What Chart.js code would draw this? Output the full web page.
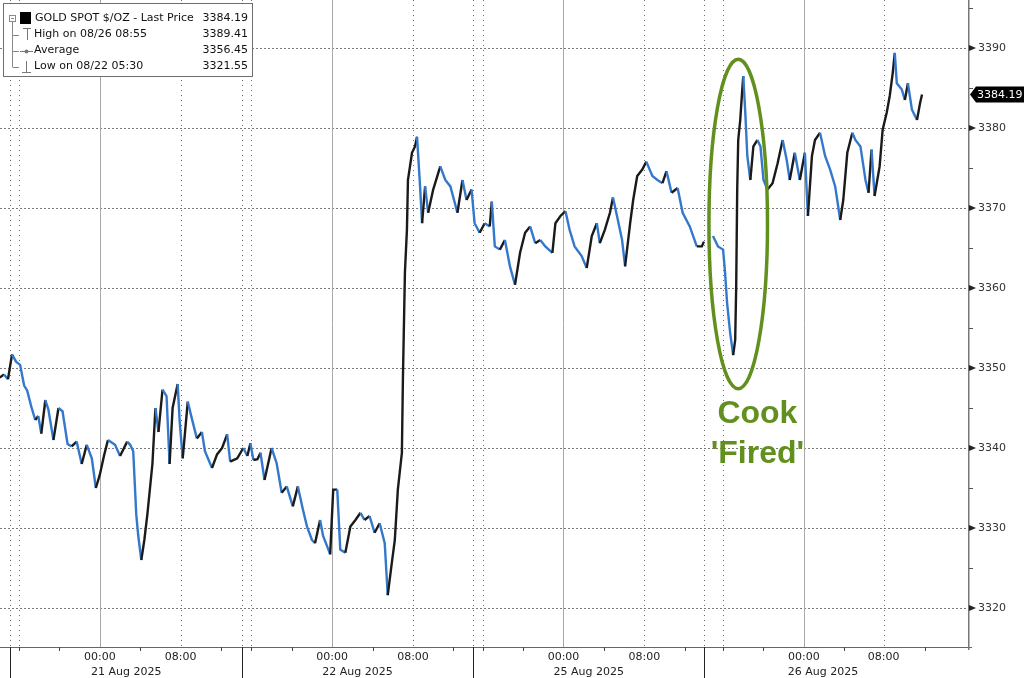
<!DOCTYPE html>
<html><head><meta charset="utf-8">
<script src="https://cdn.jsdelivr.net/npm/chart.js@4.4.1/dist/chart.umd.min.js"></script>
<style>html,body{margin:0;padding:0;background:#fff;overflow:hidden}#wrap{width:1024px;height:678px;position:relative}canvas{display:block}</style>
</head><body><div id="wrap"><canvas id="c" width="1024" height="678"></canvas></div>
<script>
// x values: trading hours on the compressed session axis (0 = start of the 21 Aug session)
const day1Hours = [-1.0,-0.6,-0.2,0.2,0.6,1.0,1.4,1.7,2.1,2.5,2.8,3.1,3.5,3.8,4.3,4.8,5.2,5.7,6.1,6.6,7.1,7.6,8.1,8.5,8.9,9.3,9.7,10.4,10.9,11.6,11.9,12.2,12.5,12.7,13.0,13.3,13.6,14.1,14.4,14.7,15.1,15.5,15.8,16.1,16.6,16.8,17.1,17.6,18.0,18.5,19.0,19.3,20.0,20.5,21.0,21.5,21.8,22.5,23.1];
const day1Prices = [3348.8,3349.2,3348.6,3351.7,3350.8,3350.4,3347.8,3347.2,3345.2,3343.5,3344.0,3341.8,3346.0,3344.8,3341.0,3345.0,3344.6,3340.5,3340.2,3340.8,3338.0,3340.4,3338.7,3335.0,3336.7,3339.0,3341.0,3340.4,3339.0,3340.8,3340.4,3339.6,3331.7,3329.0,3326.0,3328.5,3331.7,3338.0,3345.0,3342.0,3347.3,3346.5,3338.0,3345.0,3348.0,3343.3,3338.7,3345.8,3343.7,3341.2,3342.0,3339.6,3337.5,3339.2,3340.0,3341.7,3338.3,3338.7,3340.0];
const day2Hours = [23.5,23.8,24.1,24.5,24.8,25.2,25.9,26.4,26.9,27.4,28.0,28.5,29.0,29.4,29.9,30.2,30.7,31.0,31.4,31.7,32.0,32.4,32.7,33.2,33.7,34.2,34.7,35.1,35.6,36.1,36.6,37.1,37.4,37.8,38.1,38.4,38.8,38.9,39.1,39.3,39.4,39.8,40.1,40.3,40.6,40.8,41.1,41.4,41.9,42.6,43.1,43.6,44.3,44.8,45.2,45.7];
const day2Prices = [3339.0,3340.6,3338.5,3338.6,3339.4,3336.0,3340.0,3338.1,3334.4,3335.2,3332.7,3335.2,3332.3,3330.2,3328.5,3328.1,3331.0,3329.0,3327.7,3326.7,3334.8,3334.8,3327.3,3326.9,3330.2,3331.0,3331.9,3331.0,3331.5,3329.4,3330.6,3328.1,3321.6,3325.6,3328.5,3334.8,3339.4,3348.5,3361.9,3367.3,3373.5,3376.9,3377.7,3378.9,3372.7,3368.1,3372.7,3369.4,3372.3,3375.2,3373.5,3372.7,3369.4,3373.5,3371.0,3372.3];
const day3Hours = [46.0,46.5,47.0,47.5,47.7,48.0,48.5,49.0,49.5,50.0,50.5,51.0,51.5,52.0,52.5,53.0,53.7,54.0,54.5,55.0,55.4,55.9,56.6,57.1,57.6,58.1,58.4,58.9,59.4,59.7,60.1,60.6,60.9,61.4,61.7,62.1,62.6,63.0,63.6,64.1,64.6,65.0,65.5,66.1,66.6,67.3,68.0,68.5,68.7];
const day3Prices = [3368.1,3366.9,3368.1,3367.7,3370.8,3365.2,3364.8,3366.0,3362.7,3360.4,3364.4,3366.9,3367.7,3365.6,3366.0,3365.2,3364.4,3368.1,3369.0,3369.6,3367.3,3365.2,3364.0,3362.5,3366.5,3368.1,3365.6,3367.3,3369.4,3371.3,3369.0,3366.0,3362.7,3368.1,3371.0,3374.0,3374.8,3375.8,3374.0,3373.5,3373.1,3374.6,3371.9,3372.5,3369.4,3367.7,3365.2,3365.2,3365.8];
const day4Hours = [69.6,70.1,70.6,70.8,71.0,71.3,71.6,71.8,71.9,72.0,72.1,72.3,72.5,72.6,72.8,73.0,73.3,73.6,74.0,74.3,74.6,75.0,75.5,76.0,76.5,76.9,77.2,77.7,78.2,78.7,79.0,79.4,79.7,80.2,80.7,81.2,81.7,82.2,82.5,82.9,83.4,83.7,84.2,84.7,85.0,85.3,85.6,86.1,86.4,86.8,87.1,87.4,87.6,87.8,88.3,88.6,88.9,89.3,89.8,90.1,90.3];
const day4Prices = [3366.5,3365.2,3364.8,3361.9,3358.1,3354.4,3351.6,3353.5,3360.2,3372.3,3378.5,3381.0,3384.8,3386.5,3381.9,3376.5,3373.5,3377.7,3378.5,3377.7,3373.5,3372.3,3373.1,3375.6,3378.5,3376.0,3373.5,3376.9,3373.5,3376.9,3369.0,3376.5,3378.5,3379.4,3376.5,3374.8,3372.7,3368.5,3371.0,3376.9,3379.4,3378.5,3377.7,3373.5,3371.9,3377.3,3371.5,3375.2,3379.8,3381.9,3384.0,3386.9,3389.4,3385.6,3384.8,3383.5,3385.6,3382.3,3381.0,3383.1,3384.19];
const gapHour = 69.1; // daily market break, no prints

const timeTickHours = [8.9,16.9,31.9,39.9,54.8,62.8,78.6,86.5];
const timeTickLabels = ['00:00','08:00','00:00','08:00','00:00','08:00','00:00','08:00'];
const dateTickHours = [11.5,34.4,57.3,80.5];
const dateTickLabels = ['21 Aug 2025','22 Aug 2025','25 Aug 2025','26 Aug 2025'];
const sessionStartHours = [0,23.0,45.8,68.7];
const midnightHours = [8.9,31.9,54.8,78.6];
const dottedHours = [0,0.9,16.9,23.0,23.9,39.9,45.8,46.8,62.8,68.7,70.6,86.5];
const minorHourTicks = [0.9,4.9,12.9,20.9,23.9,27.9,35.9,43.9,46.8,50.8,58.8,66.8,70.6,74.6,82.6,90.6];
const priceTicks = [3320,3330,3340,3350,3360,3370,3380,3390];
const minorPriceTicks = [3325,3335,3345,3355,3365,3375,3385,3395];

const legendLabels = ['GOLD SPOT $/OZ - Last Price','High on 08/26 08:55','Average','Low on 08/22 05:30'];
const legendValues = ['3384.19','3389.41','3356.45','3321.55'];
const lastPrice = 3384.19;

const noteLines = ['Cook',"'Fired'"];
const noteHour = 74.0, notePrices = [3343.1, 3338.1];
const ellipseHour = 72.1, ellipsePrice = 3368.0, ellipseHalfHours = 2.9, ellipseHalfPrice = 20.6;

const FONT = 'DejaVu Sans';
const BLUE = '#3478cc', UPC = '#1a1a1a', GREEN = '#62901f';

const points = [];
function addDay(hs, ps){ hs.forEach((h,i)=>points.push({x:h,y:ps[i]})); }
addDay(day1Hours, day1Prices);
addDay(day2Hours, day2Prices);
addDay(day3Hours, day3Prices);
points.push({x:gapHour, y:null});
addDay(day4Hours, day4Prices);

function zeroPad(s){ s.paddingTop=0; s.paddingBottom=0; s.paddingLeft=0; s.paddingRight=0; }

const decor = {
  id:'decor',
  beforeDatasetsDraw(chart){
    const {ctx, chartArea:a, scales:{x,y}} = chart;
    ctx.save();
    ctx.lineWidth = 1;
    ctx.strokeStyle = '#7a7a7a';
    ctx.setLineDash([2,2]);
    priceTicks.forEach(v=>{const py=Math.round(y.getPixelForValue(v))+0.5;ctx.beginPath();ctx.moveTo(a.left,py);ctx.lineTo(a.right,py);ctx.stroke();});
    ctx.setLineDash([1,4]);
    ctx.strokeStyle = '#6a6a6a';
    dottedHours.forEach(h=>{const px=Math.round(x.getPixelForValue(h))+0.5;ctx.beginPath();ctx.moveTo(px,a.top);ctx.lineTo(px,a.bottom);ctx.stroke();});
    ctx.setLineDash([]);
    ctx.strokeStyle = '#a8a8a8';
    midnightHours.forEach(h=>{const px=Math.round(x.getPixelForValue(h))+0.5;ctx.beginPath();ctx.moveTo(px,a.top);ctx.lineTo(px,a.bottom);ctx.stroke();});
    ctx.restore();
  },
  afterDatasetsDraw(chart){
    const {ctx, chartArea:a, scales:{x,y}} = chart;
    ctx.save();
    ctx.strokeStyle = '#666'; ctx.lineWidth = 1;
    ctx.beginPath(); ctx.moveTo(0, a.bottom+0.5); ctx.lineTo(a.right+4, a.bottom+0.5); ctx.stroke();
    ctx.strokeStyle = '#777'; ctx.lineWidth = 1.5;
    ctx.beginPath(); ctx.moveTo(a.right+0.75, 0); ctx.lineTo(a.right+0.75, a.bottom+3); ctx.stroke();
    ctx.lineWidth = 1; ctx.strokeStyle = '#444';
    minorHourTicks.forEach(h=>{const px=Math.round(x.getPixelForValue(h))+0.5;ctx.beginPath();ctx.moveTo(px,a.bottom);ctx.lineTo(px,a.bottom+4);ctx.stroke();});
    ctx.strokeStyle = '#222';
    sessionStartHours.forEach(h=>{const px=Math.round(x.getPixelForValue(h))+0.5;ctx.beginPath();ctx.moveTo(px,a.bottom);ctx.lineTo(px,chart.height);ctx.stroke();});
    ctx.fillStyle = '#222';
    priceTicks.forEach(v=>{const py=y.getPixelForValue(v);ctx.beginPath();ctx.moveTo(a.right+1,py-3);ctx.lineTo(a.right+8,py);ctx.lineTo(a.right+1,py+3);ctx.closePath();ctx.fill();});
    ctx.strokeStyle = '#555';
    minorPriceTicks.forEach(v=>{const py=Math.round(y.getPixelForValue(v))+0.5;ctx.beginPath();ctx.moveTo(a.right+1,py);ctx.lineTo(a.right+5,py);ctx.stroke();});
    const ty = y.getPixelForValue(lastPrice);
    ctx.fillStyle = '#000';
    ctx.beginPath(); ctx.moveTo(a.right+2,ty); ctx.lineTo(a.right+8,ty-8); ctx.lineTo(chart.width,ty-8); ctx.lineTo(chart.width,ty+8); ctx.lineTo(a.right+8,ty+8); ctx.closePath(); ctx.fill();
    ctx.fillStyle = '#fff'; ctx.font = '11px "'+FONT+'"'; ctx.textBaseline='middle'; ctx.textAlign='left';
    ctx.fillText(lastPrice.toFixed(2), a.right+9, ty+0.5);
    const cx = x.getPixelForValue(ellipseHour), cy = y.getPixelForValue(ellipsePrice);
    const rx = Math.abs(x.getPixelForValue(ellipseHour+ellipseHalfHours)-cx), ry = Math.abs(y.getPixelForValue(ellipsePrice+ellipseHalfPrice)-cy);
    ctx.strokeStyle = GREEN; ctx.lineWidth = 3.5;
    ctx.beginPath(); ctx.ellipse(cx, cy, rx, ry, 0, 0, Math.PI*2); ctx.stroke();
    ctx.fillStyle = GREEN; ctx.font = 'bold 32px "Liberation Sans"'; ctx.textAlign='center'; ctx.textBaseline='alphabetic';
    noteLines.forEach((t,i)=>ctx.fillText(t, x.getPixelForValue(noteHour), y.getPixelForValue(notePrices[i])));
    ctx.fillStyle = '#fff'; ctx.fillRect(3,3,250,74);
    ctx.strokeStyle = '#6e6e6e'; ctx.lineWidth = 1; ctx.strokeRect(3.5,3.5,249,73);
    const rows = [18.5, 34.5, 50.5, 66.5];
    ctx.strokeStyle = '#8a8a8a';
    ctx.strokeRect(9.5,15.5,6,6);
    ctx.beginPath(); ctx.moveTo(11,18.5); ctx.lineTo(14,18.5); ctx.stroke();
    ctx.beginPath(); ctx.moveTo(12.5,22); ctx.lineTo(12.5,rows[3]+0.5); ctx.stroke();
    [1,2,3].forEach(i=>{ctx.beginPath();ctx.moveTo(12.5,Math.round(rows[i])+0.5);ctx.lineTo(19,Math.round(rows[i])+0.5);ctx.stroke();});
    ctx.fillStyle = '#000'; ctx.fillRect(20,12,11,12);
    ctx.strokeStyle = '#777';
    ctx.beginPath(); ctx.moveTo(23,28.5); ctx.lineTo(31,28.5); ctx.moveTo(27.5,28.5); ctx.lineTo(27.5,40); ctx.stroke();
    ctx.beginPath(); ctx.moveTo(20,51.5); ctx.lineTo(33,51.5); ctx.stroke();
    ctx.fillStyle = '#777'; ctx.beginPath(); ctx.arc(26.5,51.5,2,0,Math.PI*2); ctx.fill();
    ctx.beginPath(); ctx.moveTo(26.5,61); ctx.lineTo(26.5,72.5); ctx.moveTo(22,72.5); ctx.lineTo(31,72.5); ctx.stroke();
    ctx.fillStyle = '#111'; ctx.font = '11px "'+FONT+'"'; ctx.textBaseline = 'middle';
    legendLabels.forEach((t,i)=>{ctx.textAlign='left'; ctx.fillText(t, i===0?35:34, rows[i]); ctx.textAlign='right'; ctx.fillText(legendValues[i], 248, rows[i]);});
    ctx.restore();
  }
};

new Chart(document.getElementById('c'), {
  type:'line',
  data:{datasets:[{data:points, borderWidth:2.4, pointRadius:0, tension:0, spanGaps:false, borderColor:BLUE,
    segment:{borderColor:c=>c.p1.parsed.y<c.p0.parsed.y?BLUE:UPC}}]},
  options:{
    responsive:false, animation:false, devicePixelRatio:1,
    layout:{padding:0},
    plugins:{legend:{display:false}, tooltip:{enabled:false}},
    scales:{
      x:{type:'linear', position:'bottom', weight:0, min:-0.99, max:94.85,
        afterBuildTicks:s=>{s.ticks=timeTickHours.map(v=>({value:v}));},
        afterFit:s=>{s.height=16; zeroPad(s);},
        grid:{display:false, drawTicks:false}, border:{display:false},
        ticks:{autoSkip:false, maxRotation:0, padding:4, color:'#222', font:{family:FONT,size:11}, callback:(v,i)=>timeTickLabels[i]}},
      xDate:{type:'linear', axis:'x', position:'bottom', weight:1, min:-0.99, max:94.85,
        afterBuildTicks:s=>{s.ticks=dateTickHours.map(v=>({value:v}));},
        afterFit:s=>{s.height=15; zeroPad(s);},
        grid:{display:false, drawTicks:false}, border:{display:false},
        ticks:{autoSkip:false, maxRotation:0, padding:3, color:'#222', font:{family:FONT,size:11}, callback:(v,i)=>dateTickLabels[i]}},
      y:{position:'right', min:3315.125, max:3396,
        afterBuildTicks:s=>{s.ticks=priceTicks.map(v=>({value:v}));},
        afterFit:s=>{s.width=56; zeroPad(s);},
        grid:{display:false, drawTicks:false}, border:{display:false},
        ticks:{padding:10, color:'#333', font:{family:FONT,size:11}, callback:v=>String(v)}}
    }
  },
  plugins:[decor]
});
</script></body></html>
